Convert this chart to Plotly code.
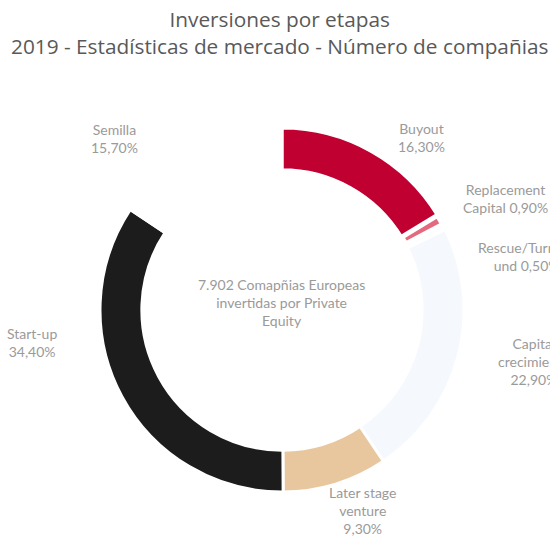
import plotly.graph_objects as go

categories = ["Buyout", "Replacement Capital", "Rescue/Turnaround", "Capital crecimiento",
              "Later stage venture", "Start-up", "Semilla"]
values = [16.30, 0.90, 0.50, 22.90, 9.30, 34.40, 15.70]
colors = ["#BF0030", "#E4697F", "#FCFDFE", "#F5F8FC", "#E9C79E", "#1C1C1C", "#FFFFFF"]

label_texts = ["Buyout<br>16,30%", "Replacement<br>Capital 0,90%", "Rescue/Turnaro<br>und 0,50%",
               "Capital<br>crecimiento<br>22,90%", "Later stage<br>venture<br>9,30%",
               "Start-up<br>34,40%", "Semilla<br>15,70%"]
label_pos = [(422, 137), (505, 199), (526, 256), (534, 361), (362, 510), (32, 342), (114, 139)]

center_text = "7.902 Comapñias Europeas<br>invertidas por Private<br>Equity"
title_text = "Inversiones por etapas<br>2019 - Estadísticas de mercado - Número de compañias"

W, H = 550, 536
cx, cy, R = 282, 310, 182

fig = go.Figure(go.Pie(
    labels=categories, values=values, sort=False, direction="clockwise", rotation=0,
    hole=0.77, textinfo="none", hoverinfo="label+percent",
    marker=dict(colors=colors, line=dict(color="#FFFFFF", width=[3, 5, 3, 3, 3, 3, 3])),
    domain=dict(x=[(cx - R) / W, (cx + R) / W], y=[(H - cy - R) / H, (H - cy + R) / H]),
    showlegend=False,
))

lab_font = dict(family="Lato", size=14, color="#9A9A9A")
annotations = []
for t, (x, y) in zip(label_texts, label_pos):
    annotations.append(dict(text=t, x=x / W, y=1 - y / H, xref="paper", yref="paper",
                            showarrow=False, xanchor="center", yanchor="middle",
                            font=lab_font, align="center"))
annotations.append(dict(text=center_text, x=281 / W, y=1 - 302 / H, xref="paper", yref="paper",
                        showarrow=False, xanchor="center", yanchor="middle",
                        font=lab_font, align="center"))
annotations.append(dict(text=title_text, x=279 / W, y=1 - 33 / H, xref="paper", yref="paper",
                        showarrow=False, xanchor="center", yanchor="middle",
                        font=dict(family="Open Sans", size=20.8, color="#595959"), align="center"))

fig.update_layout(width=W, height=H, margin=dict(l=0, r=0, t=0, b=0),
                  paper_bgcolor="white", plot_bgcolor="white", annotations=annotations)
fig.write_html("out.html", config={"displayModeBar": False},
               post_script="document.body.style.margin='0';")
